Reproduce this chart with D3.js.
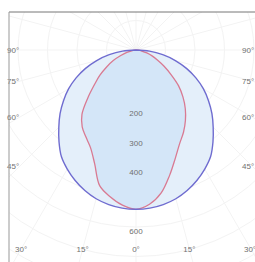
<!DOCTYPE html>
<html>
<head>
<meta charset="utf-8">
<script src="https://cdn.jsdelivr.net/npm/d3@7"></script>
<style>
  body { margin: 0; background: #fff; }
  text { font-family: "Liberation Sans", Arial, sans-serif; }
</style>
</head>
<body>
<div id="chart"></div>
<script>
// angles (deg from nadir) and intensities (cd)
const angles = [0, 5, 10, 15, 20, 25, 30, 35, 40, 45, 50, 55, 60, 65, 70, 75, 80, 85, 90];
const planeA = [540, 538, 532, 522, 507, 488, 466, 441, 406, 370, 336, 300, 264, 224, 182, 138, 92, 46, 0];
const planeBLeft = [540, 528, 505, 476, 410, 365, 340, 318, 285, 232, 185, 150, 115, 85, 55, 32, 15, 5, 0];
const planeBRight = [540, 525, 492, 440, 390, 350, 322, 292, 260, 225, 188, 145, 110, 80, 58, 38, 20, 8, 0];
const rings = [100, 200, 300, 400, 500, 600, 700, 800];
const ringLabels = [200, 300, 400, 600];
const sideAngles = [90, 75, 60, 45];
const bottomAngles = [-30, -15, 0, 15, 30];

const width = 255, height = 262;
const cx = 136, cy = 50;
const frame = {x: 9, y: 12};

const r = d3.scaleLinear().domain([0, 600]).range([0, 177]);
const rad = d => d * Math.PI / 180;

const svg = d3.select("#chart").append("svg")
    .attr("width", width)
    .attr("height", height);

svg.append("clipPath").attr("id", "clip")
  .append("rect")
    .attr("x", frame.x).attr("y", frame.y)
    .attr("width", width).attr("height", height);

const grid = svg.append("g").attr("clip-path", "url(#clip)")
    .attr("stroke", "#f3f3f3").attr("fill", "none");

grid.selectAll("circle")
  .data(rings)
  .join("circle")
    .attr("cx", cx).attr("cy", cy)
    .attr("r", d => r(d));

grid.selectAll("line")
  .data(d3.range(0, 360, 15))
  .join("line")
    .attr("x1", cx).attr("y1", cy)
    .attr("x2", d => cx + 400 * Math.sin(rad(d)))
    .attr("y2", d => cy + 400 * Math.cos(rad(d)));

// build a closed curve: left half from 90 to 0, right half from 0 to 90
function curvePoints(left, right) {
  const pts = [];
  for (let i = angles.length - 1; i >= 0; i--) pts.push({a: -angles[i], v: left[i]});
  for (let i = 1; i < angles.length; i++) pts.push({a: angles[i], v: right[i]});
  return pts;
}

const line = d3.lineRadial()
    .angle(d => Math.PI - rad(d.a))
    .radius(d => r(d.v))
    .curve(d3.curveCatmullRom.alpha(0.5));

const plot = svg.append("g").attr("transform", `translate(${cx},${cy})`);

plot.append("path")
    .attr("d", line(curvePoints(planeA, planeA)) + "Z")
    .attr("fill", "#e4effa");

plot.append("path")
    .attr("d", line(curvePoints(planeBLeft, planeBRight)) + "Z")
    .attr("fill", "#d4e6f8");

plot.append("path")
    .attr("d", line(curvePoints(planeBLeft, planeBRight)))
    .attr("fill", "none")
    .attr("stroke", "#d97a92")
    .attr("stroke-width", 1.3);

plot.append("path")
    .attr("d", line(curvePoints(planeA, planeA)))
    .attr("fill", "none")
    .attr("stroke", "#6f6cd0")
    .attr("stroke-width", 1.4);

// ring labels
svg.append("g")
    .attr("font-size", 8)
    .attr("fill", "#707070")
    .attr("text-anchor", "middle")
  .selectAll("text")
  .data(ringLabels)
  .join("text")
    .attr("x", cx)
    .attr("y", d => cy + r(d) + 7)
    .text(d => d);

// angle labels on the sides
const labelDx = 116;
const side = svg.append("g").attr("font-size", 8).attr("fill", "#707070");
side.selectAll("text.l")
  .data(sideAngles)
  .join("text")
    .attr("class", "l")
    .attr("x", 7)
    .attr("y", d => cy + labelDx / Math.tan(rad(d)) + 3)
    .text(d => d + "°");
side.selectAll("text.r")
  .data(sideAngles)
  .join("text")
    .attr("class", "r")
    .attr("x", 242)
    .attr("y", d => cy + labelDx / Math.tan(rad(d)) + 3)
    .text(d => d + "°");

// angle labels at the bottom
const labelY = 252;
side.selectAll("text.b")
  .data(bottomAngles)
  .join("text")
    .attr("class", "b")
    .attr("text-anchor", "middle")
    .attr("x", d => Math.max(15, Math.min(250, cx + (labelY - 3 - cy) * Math.tan(rad(d)))))
    .attr("y", labelY)
    .text(d => Math.abs(d) + "°");

// frame
svg.append("line")
    .attr("x1", frame.x).attr("y1", frame.y)
    .attr("x2", width).attr("y2", frame.y)
    .attr("stroke", "#777");
svg.append("line")
    .attr("x1", frame.x).attr("y1", frame.y)
    .attr("x2", frame.x).attr("y2", height)
    .attr("stroke", "#999");
</script>
</body>
</html>
